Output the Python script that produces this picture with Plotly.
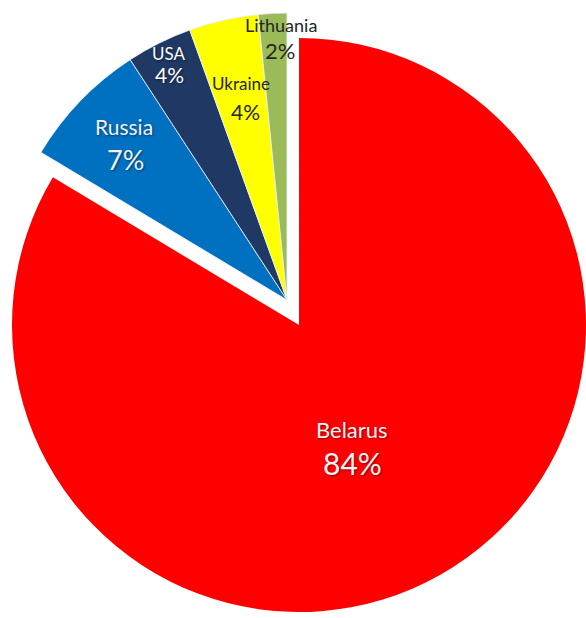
import plotly.graph_objects as go

# Share of imports by country of origin (percent)
countries = ["Belarus", "Russia", "USA", "Ukraine", "Lithuania"]
shares = [83.6, 7.2, 3.7, 3.9, 1.6]
colors = ["#FF0000", "#0070C0", "#1F3864", "#FFFF00", "#9BBB59"]

W, H = 586, 618
total = sum(shares)


def px_domain(x0, x1, y0, y1):
    """Convert a pixel box (top-left origin) into paper-domain fractions."""
    return dict(x=[max(0, x0 / W), min(1, x1 / W)],
                y=[max(0, 1 - y1 / H), min(1, 1 - y0 / H)])


fig = go.Figure()

# Main slice (Belarus) stays in place
main_colors = [colors[0]] + ["rgba(0,0,0,0)"] * (len(countries) - 1)
fig.add_trace(go.Pie(
    labels=countries, values=shares, sort=False,
    direction="clockwise", rotation=0,
    marker=dict(colors=main_colors, line=dict(width=0)),
    textposition="none", hoverinfo="label+percent",
    domain=px_domain(12, 586, 38, 612),
))

# The smaller slices are exploded together toward the upper left
group_colors = ["rgba(0,0,0,0)"] + colors[1:]
group_lines = [0] + [1] * (len(countries) - 1)
fig.add_trace(go.Pie(
    labels=countries, values=shares, sort=False,
    direction="clockwise", rotation=0,
    marker=dict(colors=group_colors,
                line=dict(color="rgba(235,240,250,0.85)", width=group_lines)),
    textposition="none", hoverinfo="label+percent",
    domain=px_domain(0, 574, 13, 587),
))

# Data labels: name on the first line, rounded share underneath
label_pos = {
    "Belarus": ((352, 430), (352, 463), 22, 30, "#F4F4F4"),
    "Russia": ((124, 126), (125, 159), 21, 27, "#F0F4FA"),
    "USA": ((169, 54), (169, 74), 17, 21, "#FFFFFF"),
    "Ukraine": ((241, 84), (245, 111), 17, 21, "#262626"),
    "Lithuania": ((281, 25), (280, 51), 18, 22, "#262626"),
}

for name, value in zip(countries, shares):
    (nx, ny), (vx, vy), fs_name, fs_val, col = label_pos[name]
    shadow = "1px 1px 2px rgba(0,0,0,0.45)" if col != "#262626" else "none"
    fig.add_annotation(x=nx / W, y=1 - ny / H, xref="paper", yref="paper",
                       text=name, showarrow=False,
                       font=dict(family="Lato", size=fs_name, color=col, shadow=shadow),
                       xanchor="center", yanchor="middle")
    fig.add_annotation(x=vx / W, y=1 - vy / H, xref="paper", yref="paper",
                       text=f"{round(value / total * 100)}%", showarrow=False,
                       font=dict(family="Lato", size=fs_val, color=col, shadow=shadow),
                       xanchor="center", yanchor="middle")

fig.update_layout(
    width=W, height=H,
    margin=dict(l=0, r=0, t=0, b=0),
    showlegend=False,
    paper_bgcolor="white", plot_bgcolor="white",
)

fig.write_html("out.html")
